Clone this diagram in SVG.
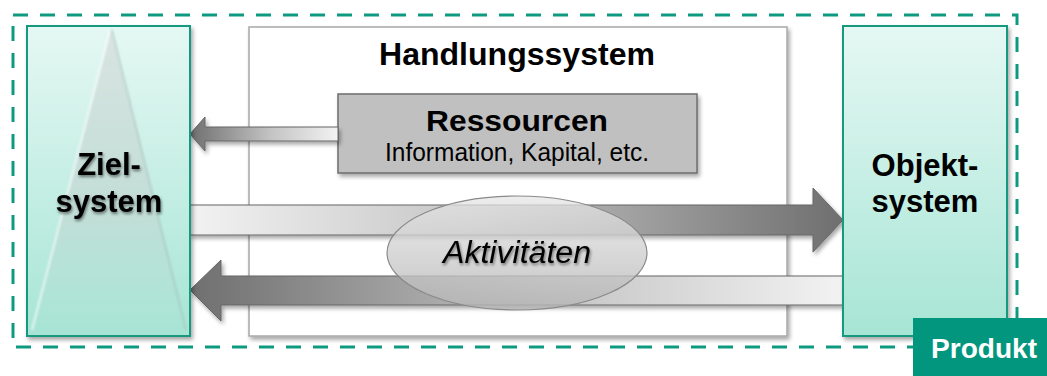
<svg xmlns="http://www.w3.org/2000/svg" width="1047" height="376" viewBox="0 0 1047 376">
  <style>
    .bold { font-family: "Liberation Sans", Arial, sans-serif; font-weight: bold; fill: #000; }
    .reg { font-family: "Liberation Sans", Arial, sans-serif; fill: #000; }
    .sysbox { stroke: #12997f; stroke-width: 2; }
    .arrow { stroke: #666; stroke-width: 1; }
  </style>
  <defs>
    <linearGradient id="tealFill" x1="0" y1="0" x2="0" y2="1">
      <stop offset="0" stop-color="#e5f8f3"/>
      <stop offset="1" stop-color="#a7e5d5"/>
    </linearGradient>
    <linearGradient id="pyramid" x1="0" y1="0" x2="0" y2="1">
      <stop offset="0" stop-color="#d8e3e0" stop-opacity="0.95"/>
      <stop offset="0.6" stop-color="#c2dcd5" stop-opacity="0.9"/>
      <stop offset="1" stop-color="#a8e2d3" stop-opacity="0.3"/>
    </linearGradient>
    <linearGradient id="lightToDark" x1="0" y1="0" x2="1" y2="0">
      <stop offset="0" stop-color="#f2f2f2"/>
      <stop offset="0.45" stop-color="#c4c4c4"/>
      <stop offset="1" stop-color="#6f6f6f"/>
    </linearGradient>
    <linearGradient id="darkToLight" x1="0" y1="0" x2="1" y2="0">
      <stop offset="0" stop-color="#6f6f6f"/>
      <stop offset="0.55" stop-color="#c4c4c4"/>
      <stop offset="1" stop-color="#f2f2f2"/>
    </linearGradient>
    <linearGradient id="ellFill" x1="0" y1="0" x2="0" y2="1">
      <stop offset="0" stop-color="#e6e6e6" stop-opacity="0.75"/>
      <stop offset="1" stop-color="#b5b5b5" stop-opacity="0.8"/>
    </linearGradient>
    <filter id="shadow" x="-10%" y="-10%" width="130%" height="130%">
      <feGaussianBlur in="SourceAlpha" stdDeviation="2"/>
      <feOffset dx="2" dy="3" result="b"/>
      <feComponentTransfer><feFuncA type="linear" slope="0.35"/></feComponentTransfer>
      <feMerge><feMergeNode/><feMergeNode in="SourceGraphic"/></feMerge>
    </filter>
    <filter id="soft" x="-5%" y="-5%" width="110%" height="110%">
      <feGaussianBlur stdDeviation="1"/>
    </filter>
    <filter id="textGlow" x="-10%" y="-20%" width="120%" height="140%">
      <feGaussianBlur in="SourceAlpha" stdDeviation="1.5"/>
      <feOffset dx="1" dy="2" result="b"/>
      <feComponentTransfer><feFuncA type="linear" slope="0.5"/></feComponentTransfer>
      <feMerge><feMergeNode/><feMergeNode in="SourceGraphic"/></feMerge>
    </filter>
  </defs>

  <!-- product boundary -->
  <rect x="13" y="15" width="1004" height="332" fill="none" stroke="#0e9a80" stroke-width="3" stroke-dasharray="15 12"/>

  <!-- action system -->
  <g id="handlungssystem">
    <rect x="249" y="27" width="538" height="309" fill="#fff" stroke="#a8a8a8" stroke-width="1.5" filter="url(#shadow)"/>
    <text class="bold" x="517" y="65" font-size="32" text-anchor="middle" textLength="276" lengthAdjust="spacingAndGlyphs">Handlungssystem</text>
  </g>

  <!-- resources -->
  <g id="ressourcen">
    <rect x="338" y="94" width="359" height="79" fill="#c0c0c0" stroke="#6e6e6e" stroke-width="1.5" filter="url(#shadow)"/>
    <text class="bold" x="517" y="131" font-size="30" text-anchor="middle" textLength="182" lengthAdjust="spacingAndGlyphs">Ressourcen</text>
    <text class="reg" x="517" y="161" font-size="25" text-anchor="middle" textLength="264" lengthAdjust="spacingAndGlyphs">Information, Kapital, etc.</text>
  </g>

  <!-- connectors -->
  <g id="connectors" filter="url(#shadow)">
    <path class="arrow" fill="url(#darkToLight)" d="M338,127 L205,127 L205,117 L190,134 L205,151 L205,141 L338,141 Z"/>
    <path class="arrow" fill="url(#lightToDark)" d="M190,205 L813,205 L813,188 L843,220 L813,252 L813,235 L190,235 Z"/>
    <path class="arrow" fill="url(#darkToLight)" d="M843,276 L221,276 L221,260 L190,290 L221,321 L221,305 L843,305 Z"/>
  </g>

  <!-- activities -->
  <g id="aktivitaeten">
    <ellipse cx="517" cy="253" rx="130" ry="57" fill="url(#ellFill)" stroke="#8a8a8a" stroke-width="1.2"/>
    <text class="reg" x="517" y="263" font-size="31" font-style="italic" text-anchor="middle" textLength="148" lengthAdjust="spacingAndGlyphs" filter="url(#textGlow)">Aktivitäten</text>
  </g>

  <!-- goal system -->
  <g id="zielsystem">
    <rect class="sysbox" x="27" y="26" width="163" height="310" fill="url(#tealFill)" filter="url(#shadow)"/>
    <polygon points="111,28 30,334 188,334" fill="url(#pyramid)" filter="url(#soft)"/>
    <line x1="110" y1="30" x2="32" y2="330" stroke="#ffffff" stroke-opacity="0.7" stroke-width="2" filter="url(#soft)"/>
    <line x1="112" y1="30" x2="186" y2="330" stroke="#9fbdb5" stroke-opacity="0.5" stroke-width="2" filter="url(#soft)"/>
    <g filter="url(#textGlow)">
      <text class="bold" x="109" y="175" font-size="31" text-anchor="middle">Ziel-</text>
      <text class="bold" x="109" y="212" font-size="31" text-anchor="middle">system</text>
    </g>
  </g>

  <!-- object system -->
  <g id="objektsystem">
    <rect class="sysbox" x="843" y="26" width="164" height="310" fill="url(#tealFill)" filter="url(#shadow)"/>
    <text class="bold" x="925" y="176" font-size="31" text-anchor="middle">Objekt-</text>
    <text class="bold" x="925" y="212" font-size="31" text-anchor="middle">system</text>
  </g>

  <!-- product label -->
  <g id="produkt">
    <rect x="913" y="318" width="140" height="64" fill="#03967e"/>
    <text class="bold" x="984" y="358" font-size="27" text-anchor="middle" textLength="106" lengthAdjust="spacingAndGlyphs" style="fill:#fff">Produkt</text>
  </g>
</svg>
